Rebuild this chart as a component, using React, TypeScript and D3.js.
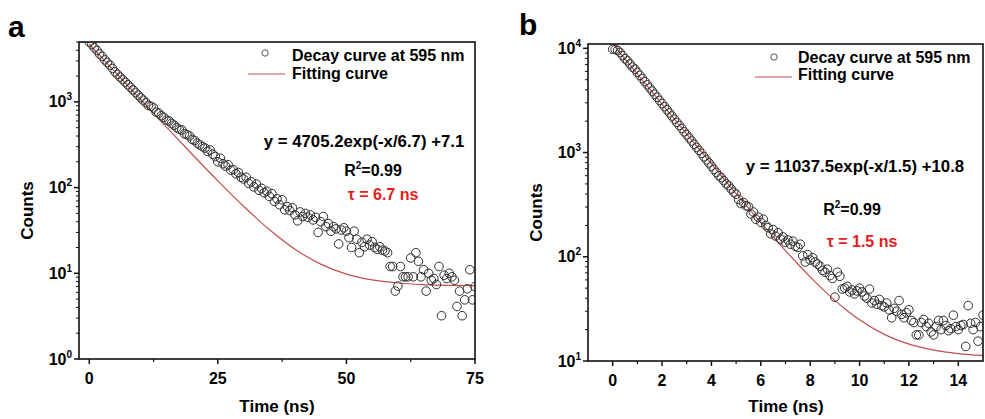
import React from 'react';
import * as d3 from 'd3';

const W = 985;
const H = 419;
const FONT = '"Liberation Sans", Arial, Helvetica, sans-serif';
const FIT_COLOR = '#c0504d';
const TAU_COLOR = '#e3201c';

// ---------- panel a ----------
const stepA = 0.5; // ns per channel
const countsA = [
  5000, 4680, 4270, 3980, 3630, 3390, 3090, 2880, 2690, 2455,
  2240, 2090, 1950, 1820, 1700, 1585, 1480, 1380, 1290, 1200,
  1120, 1050, 980, 910, 890, 850, 760, 740, 690, 660,
  615, 600, 560, 535, 500, 480, 470, 425, 415, 400,
  365, 355, 330, 315, 300, 290, 265, 275, 245, 230,
  200, 220, 190, 178, 185, 160, 162, 145, 150, 132,
  126, 132, 112, 117, 102, 110, 93, 98, 87, 91,
  79, 85, 69, 74, 63, 72, 55, 60, 54, 58,
  48, 41, 52, 46, 50, 45, 48, 42, 45, 30,
  40, 46, 35, 38, 31, 35, 33, 22, 32, 34,
  31, 26, 20, 31, 25, 17.4, 23, 20.4, 25, 21.4,
  23.4, 20, 19, 20.4, 18.6, 18.2, 17.4, 12, 12, 6.2,
  7.1, 12, 9.1, 9.1, 9.1, 15.1, 9.1, 17.4, 13.8, 9.1,
  11, 6.2, 10, 8.3, 8.7, 7.4, 12, 3.2, 9.5, 8.7,
  10, 9.1, 8.3, 4.1, 6.2, 3.2, 4.9, 6.6, 11, 4.9,
  7.0,
];
const fitTimesA = [0, 5, 10, 15, 20, 25, 30, 35, 40, 45, 50, 55, 60, 65, 70, 75];
const fitCountsA = [4712, 2238, 1065, 509, 245, 120, 60.6, 32.4, 19.1, 12.8, 9.8, 8.38, 7.71, 7.39, 7.24, 7.17];
const xTicksA = [0, 25, 50, 75];
const xMinorA = [12.5, 37.5, 62.5];

// ---------- panel b ----------
const stepB = 0.1;
const countsB = [
  9800, 9750, 9550, 9120, 8510, 7940, 7590, 7080, 6610, 6310,
  5890, 5500, 5130, 4790, 4470, 4170, 3890, 3630, 3390, 3160,
  2950, 2750, 2570, 2400, 2240, 2090, 1950, 1820, 1700, 1580,
  1480, 1380, 1290, 1200, 1120, 1050, 980, 910, 850, 795,
  740, 690, 645, 600, 575, 537, 500, 480, 447, 417,
  398, 355, 324, 331, 309, 302, 257, 269, 229, 240,
  214, 229, 200, 190, 166, 182, 158, 170, 148, 155,
  138, 145, 132, 141, 126, 123, 132, 102, 89, 105,
  93, 98, 89, 85, 81, 74, 71, 76, 66, 62,
  41, 71, 65, 49, 50, 52, 46, 48, 44, 47,
  50, 46, 42, 40, 49, 36, 38, 35, 39, 34,
  33, 36, 31, 26, 32, 30, 38, 28, 26, 29,
  31, 24.5, 23.4, 17.8, 17.8, 23.4, 25, 21.4, 23, 19,
  17.8, 21.4, 24.5, 20, 24.5, 21.9, 19.5, 20.4, 27.5, 21.4,
  20, 21.9, 22.4, 13.8, 34, 23, 20, 23.4, 15.5, 21.4,
  27.5,
];
const fitTimesB = [0, 0.5, 1, 1.5, 2, 2.5, 3, 3.5, 4, 4.5, 5, 5.5, 6, 6.5, 7, 7.5, 8, 8.5, 9, 9.5, 10, 11, 12, 13, 14, 15];
const fitCountsB = [11048, 7920, 5678, 4072, 2920, 2096, 1505, 1081, 778, 560, 404.5, 293, 213, 155.6, 114.6, 85.2, 64.1, 49, 38.2, 30.4, 24.85, 18.0, 14.5, 12.7, 11.78, 11.3];
const xTicksB = [0, 2, 4, 6, 8, 10, 12, 14];
const xMinorB = [1, 3, 5, 7, 9, 11, 13];

type PanelProps = {
  id: string;
  label: string;
  labelX: number;
  labelY: number;
  box: { left: number; right: number; top: number; bottom: number };
  xDomain: [number, number];
  yDomain: [number, number];
  step: number;
  counts: number[];
  fitTimes: number[];
  fitCounts: number[];
  xTicks: number[];
  xMinor: number[];
  decades: number[];
  titleX: number;
  legend: { cx: number; cy: number; tx: number; ty1: number; ty2: number; lx1: number; lx2: number; ly: number };
  eq: { text: string; x: number; y: number };
  r2: { x: number; y: number };
  tau: { text: string; x: number; y: number };
};

const Panel = (p: PanelProps) => {
  const { left, right, top, bottom } = p.box;
  const x = d3.scaleLinear().domain(p.xDomain).range([left, right]);
  const y = d3.scaleLog().domain(p.yDomain).range([bottom, top]);

  const minorY: number[] = [];
  p.decades.forEach((e) => {
    for (let k = 2; k <= 9; k++) {
      const v = k * Math.pow(10, e);
      if (v <= p.yDomain[1]) minorY.push(v);
    }
  });

  const line = d3
    .line<number>()
    .x((_, i) => x(p.fitTimes[i]))
    .y((d) => y(d))
    .curve(d3.curveMonotoneX);

  return (
    <g>
      <defs>
        <clipPath id={`clip-${p.id}`}>
          <rect x={left} y={top} width={right - left} height={bottom - top} />
        </clipPath>
      </defs>

      <text x={p.labelX} y={p.labelY} fontSize={30} fontWeight="bold" fontFamily={FONT}>
        {p.label}
      </text>

      <g clipPath={`url(#clip-${p.id})`}>
        <path d={line(p.fitCounts) || ''} fill="none" stroke={FIT_COLOR} strokeWidth={1.2} />
        {p.counts.map((c, i) => (
          <circle key={i} cx={x(i * p.step)} cy={y(c)} r={4.3} fill="none" stroke="#2e2e2e" strokeWidth={1} />
        ))}
      </g>

      {/* frame */}
      <rect x={left} y={top} width={right - left} height={bottom - top} fill="none" stroke="#111" strokeWidth={1.6} />

      {/* x axis ticks */}
      {p.xTicks.map((t) => (
        <g key={`xt${t}`}>
          <line x1={x(t)} x2={x(t)} y1={bottom} y2={bottom + 5} stroke="#111" strokeWidth={1.5} />
          <text x={x(t)} y={bottom + 24.5} textAnchor="middle" fontSize={16} fontWeight="bold" fontFamily={FONT}>
            {t}
          </text>
        </g>
      ))}
      {p.xMinor.map((t) => (
        <line key={`xm${t}`} x1={x(t)} x2={x(t)} y1={bottom} y2={bottom + 3} stroke="#111" strokeWidth={1.2} />
      ))}

      {/* y axis ticks */}
      {p.decades.map((e) => {
        const yy = y(Math.pow(10, e));
        return (
          <g key={`yt${e}`}>
            <line x1={left - 5} x2={left} y1={yy} y2={yy} stroke="#111" strokeWidth={1.5} />
            <text x={left - 7} y={yy + 5.5} textAnchor="end" fontSize={16} fontWeight="bold" fontFamily={FONT}>
              10
              <tspan fontSize={10} dy={-7}>{e}</tspan>
            </text>
          </g>
        );
      })}
      {minorY.map((v) => (
        <line key={`ym${v}`} x1={left - 3} x2={left} y1={y(v)} y2={y(v)} stroke="#111" strokeWidth={1} />
      ))}

      {/* axis titles */}
      <text x={p.titleX} y={412} textAnchor="middle" fontSize={17} fontWeight="bold" fontFamily={FONT}>
        Time (ns)
      </text>
      <text
        transform={`translate(${left - 46},${(top + bottom) / 2 + 10}) rotate(-90)`}
        textAnchor="middle"
        fontSize={17}
        fontWeight="bold"
        fontFamily={FONT}
      >
        Counts
      </text>

      {/* legend */}
      <circle cx={p.legend.cx} cy={p.legend.cy} r={3.2} fill="none" stroke="#555" strokeWidth={1} />
      <text x={p.legend.tx} y={p.legend.ty1} fontSize={16} fontWeight="bold" fontFamily={FONT}>
        Decay curve at 595 nm
      </text>
      <line x1={p.legend.lx1} x2={p.legend.lx2} y1={p.legend.ly} y2={p.legend.ly} stroke={FIT_COLOR} strokeWidth={1.2} />
      <text x={p.legend.tx} y={p.legend.ty2} fontSize={16} fontWeight="bold" fontFamily={FONT}>
        Fitting curve
      </text>

      {/* annotations */}
      <text x={p.eq.x} y={p.eq.y} textAnchor="middle" fontSize={16.8} fontWeight="bold" fontFamily={FONT}>
        {p.eq.text}
      </text>
      <text x={p.r2.x} y={p.r2.y} textAnchor="middle" fontSize={16} fontWeight="bold" fontFamily={FONT}>
        R<tspan fontSize={10} dy={-7}>2</tspan>
        <tspan dy={7}>=0.99</tspan>
      </text>
      <text x={p.tau.x} y={p.tau.y} textAnchor="middle" fontSize={16} fontWeight="bold" fontFamily={FONT} fill={TAU_COLOR}>
        {p.tau.text}
      </text>
    </g>
  );
};

export default function App() {
  return (
    <svg width={W} height={H} style={{ position: 'absolute', left: 0, top: 0, background: '#fff' }}>
      <rect width={W} height={H} fill="#fff" />
      <Panel
        id="a"
        label="a"
        labelX={8}
        labelY={37}
        box={{ left: 79, right: 475, top: 42, bottom: 359 }}
        xDomain={[-2, 75]}
        yDomain={[1, 5000]}
        step={stepA}
        counts={countsA}
        fitTimes={fitTimesA}
        fitCounts={fitCountsA}
        xTicks={xTicksA}
        xMinor={xMinorA}
        decades={[0, 1, 2, 3]}
        titleX={277}
        legend={{ cx: 265, cy: 53, tx: 292, ty1: 61, ty2: 79, lx1: 248, lx2: 285, ly: 74 }}
        eq={{ text: 'y = 4705.2exp(-x/6.7) +7.1', x: 364, y: 147 }}
        r2={{ x: 373, y: 176 }}
        tau={{ text: '\u03c4 = 6.7 ns', x: 383, y: 200 }}
      />
      <Panel
        id="b"
        label="b"
        labelX={519}
        labelY={35}
        box={{ left: 588, right: 983, top: 44, bottom: 361 }}
        xDomain={[-1, 15]}
        yDomain={[10, 11000]}
        step={stepB}
        counts={countsB}
        fitTimes={fitTimesB}
        fitCounts={fitCountsB}
        xTicks={xTicksB}
        xMinor={xMinorB}
        decades={[1, 2, 3, 4]}
        titleX={786}
        legend={{ cx: 774, cy: 57, tx: 798, ty1: 63, ty2: 80, lx1: 755, lx2: 792, ly: 77 }}
        eq={{ text: 'y = 11037.5exp(-x/1.5) +10.8', x: 855, y: 172 }}
        r2={{ x: 852, y: 215 }}
        tau={{ text: '\u03c4 = 1.5 ns', x: 862, y: 247 }}
      />
    </svg>
  );
}
